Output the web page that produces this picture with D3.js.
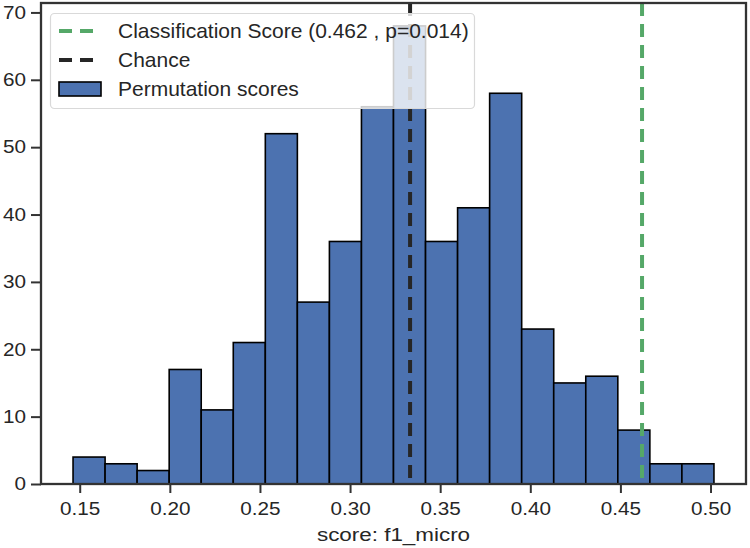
<!DOCTYPE html>
<html><head><meta charset="utf-8">
<script src="https://cdn.jsdelivr.net/npm/d3@7"></script>
<style>body{margin:0;background:#fff}svg{display:block}text{font-family:"Liberation Sans",Arial,sans-serif;fill:#262626}</style>
</head><body><svg id="c" width="750" height="548"></svg>
<script>
const binStart = 0.1463, binEnd = 0.5019;
const counts = [4,3,2,17,11,21,52,27,36,56,68,36,41,58,23,15,16,8,3,3];
const xTicks = [0.15,0.20,0.25,0.30,0.35,0.40,0.45,0.50];
const yTicks = [0,10,20,30,40,50,60,70];
const classScore = 0.462, chance = 0.3333;
const legendLabels = ["Classification Score (0.462 , p=0.014)","Chance","Permutation scores"];

const svg = d3.select("#c");
const m = {l:41,r:4,t:3,b:64};
const W = 750, H = 548;
const bw = (binEnd-binStart)/counts.length;
const pad = (binEnd-binStart)*0.05;
const x = d3.scaleLinear().domain([binStart-pad, binEnd+pad]).range([m.l, W-m.r]);
const y = d3.scaleLinear().domain([0, 68*1.05]).range([H-m.b, m.t]);

function stretch(sx){
  return sel=>sel.each(function(){
    const t=d3.select(this); const xx=+t.attr("x")||0;
    t.attr("x",0).attr("transform",`translate(${xx},0) scale(${sx},1)`);
  });
}

const bins = counts.map((c,i)=>({x0:binStart+i*bw, x1:binStart+(i+1)*bw, c}));
svg.append("g").selectAll("rect").data(bins).join("rect")
  .attr("x", d=>x(d.x0)).attr("width", d=>x(d.x1)-x(d.x0))
  .attr("y", d=>y(d.c)).attr("height", d=>y(0)-y(d.c))
  .attr("fill","#4c72b0").attr("stroke","#000").attr("stroke-width",1.6);

svg.append("line").attr("x1",x(classScore)).attr("x2",x(classScore)).attr("y1",y.range()[1]).attr("y2",y(0))
  .attr("stroke","#55a868").attr("stroke-width",4).attr("stroke-dasharray","13,8");
svg.append("line").attr("x1",x(chance)).attr("x2",x(chance)).attr("y1",y.range()[1]).attr("y2",y(0))
  .attr("stroke","#262626").attr("stroke-width",4).attr("stroke-dasharray","13,8");

// axes
const xa = svg.append("g").attr("transform",`translate(0,${H-m.b})`)
  .call(d3.axisBottom(x).tickValues(xTicks).tickFormat(d3.format(".2f")).tickSize(9).tickPadding(9));
const ya = svg.append("g").attr("transform",`translate(${m.l},0)`)
  .call(d3.axisLeft(y).tickValues(yTicks).tickSize(10).tickPadding(5));
[xa,ya].forEach(a=>{
  a.select(".domain").remove();
  a.selectAll("line").attr("stroke","#333").attr("stroke-width",2);
  a.selectAll("text").attr("font-size",18).style("fill","#262626").call(stretch(1.15));
});
svg.append("rect").attr("x",m.l).attr("y",m.t).attr("width",W-m.r-m.l).attr("height",H-m.b-m.t)
  .attr("fill","none").attr("stroke","#333").attr("stroke-width",2.3);

svg.append("text").attr("x",(m.l+W-m.r)/2).attr("y",541).attr("text-anchor","middle")
  .attr("font-size",19).text("score: f1_micro").call(stretch(1.18));

// legend
const lg = svg.append("g");
lg.append("rect").attr("x",50.5).attr("y",13.5).attr("width",424).attr("height",95).attr("rx",4)
  .attr("fill","#fff").attr("fill-opacity",0.8).attr("stroke","#d9d9d9").attr("stroke-width",1.2);
const rows=[31,60,89];
lg.append("line").attr("x1",59).attr("x2",101).attr("y1",rows[0]).attr("y2",rows[0])
  .attr("stroke","#55a868").attr("stroke-width",4).attr("stroke-dasharray","13,8");
lg.append("line").attr("x1",59).attr("x2",101).attr("y1",rows[1]).attr("y2",rows[1])
  .attr("stroke","#262626").attr("stroke-width",4).attr("stroke-dasharray","13,8");
lg.append("rect").attr("x",59).attr("y",rows[2]-7).attr("width",42).attr("height",14)
  .attr("fill","#4c72b0").attr("stroke","#000").attr("stroke-width",1.6);
legendLabels.forEach((t,i)=>lg.append("text").attr("x",118).attr("y",rows[i]+6.8)
  .attr("font-size",20).text(t).call(stretch(1.05)));
</script></body></html>
